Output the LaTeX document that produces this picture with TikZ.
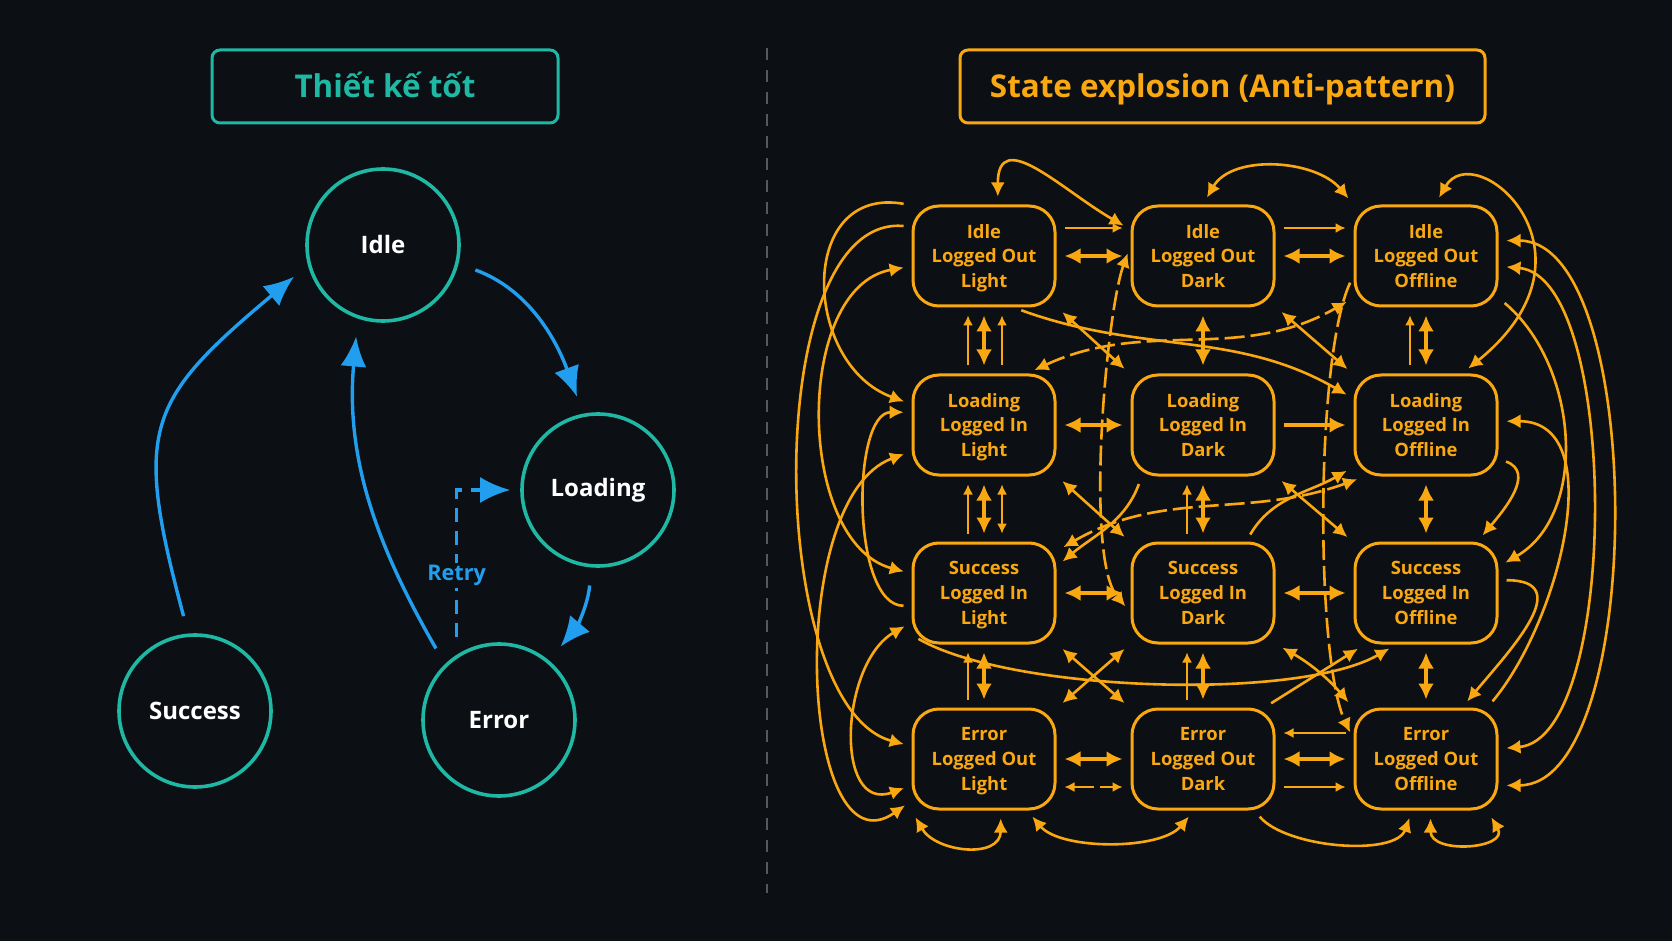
\documentclass[tikz,border=0pt]{standalone}
\usepackage{fontspec}
\setmainfont{Open Sans}
\usetikzlibrary{arrows.meta,calc}

\definecolor{bg}{RGB}{12,15,19}
\definecolor{tealc}{RGB}{30,184,164}
\definecolor{flowblue}{RGB}{33,158,238}
\definecolor{amber}{RGB}{250,168,18}
\definecolor{divgray}{RGB}{85,88,92}

\begin{document}
\begin{tikzpicture}[x=0.5pt,y=0.5pt,
  state node/.style={circle,draw=tealc,line width=1.8pt,minimum size=76pt,text=white,font=\fontsize{12}{14}\selectfont\bfseries},
  combo node/.style={rectangle,rounded corners=13pt,draw=amber,line width=1.5pt,minimum width=71pt,minimum height=50pt,align=center,text=amber,font=\fontsize{9.2}{12.4}\selectfont\bfseries},
  title node/.style={rectangle,rounded corners=4pt,line width=1.5pt,minimum height=36.5pt,text height=13pt,text depth=1.5pt,font=\fontsize{15.7}{18}\selectfont\bfseries},
  flow/.style={->,>={Latex[length=15pt,width=13pt]},flowblue,line width=1.7pt,shorten >=9pt,shorten <=9pt},
  swap/.style={<->,>={Latex[length=8pt,width=8pt]},amber,line width=2pt,shorten >=4pt,shorten <=4pt},
  tangle/.style={>={Latex[length=7pt,width=7pt]},amber,line width=1.3pt,shorten >=4pt,shorten <=4pt},
  faint/.style={>={Latex[length=5pt,width=5pt]},amber,line width=0.8pt,shorten >=4pt,shorten <=4pt},
  broken/.style={dash pattern=on 10pt off 3pt}]

\useasboundingbox (0,0) rectangle (1672,-941);
\fill[bg] (0,0) rectangle (1672,-941);
\draw[divgray,line width=1.3pt,dash pattern=on 6pt off 5pt] (767,-48) -- (767,-893);

% left: good design
\node[title node,draw=tealc,text=tealc,minimum width=173pt] (goodtitle) at (385,-86.5) {Thiết kế tốt};

\node[state node] (idle) at (383,-245) {Idle};
\node[state node] (load) at (598,-490) {Loading};
\node[state node] (succ) at (195,-711) {Success};
\node[state node] (err) at (499,-720) {Error};

\path[every edge/.style={draw,flow}]
(succ.95) edge[out=105,in=220,looseness=1.4] (idle.195)
(idle.-14) edge[out=-20,in=110] (load.101)
(load.-95) edge[out=-95,in=50] (err.50)
(err.134) edge[out=120,in=-95] (idle.-109);

\draw[flow,dash pattern=on 7pt off 4.5pt,shorten >=5pt] (err.123) |-
  node[pos=0.24,fill=bg,inner sep=1pt,text=flowblue,font=\fontsize{10.8}{12}\selectfont\bfseries]{Retry} (load.west);

% right: state explosion
\node[title node,draw=amber,text=amber,minimum width=262.5pt] (badtitle) at (1222.5,-86.5) {State explosion (Anti-pattern)};

\node[combo node] (il1) at (984,-256) {Idle\\Logged Out\\\smash{Light}};
\node[combo node] (il2) at (1203,-256) {Idle\\Logged Out\\Dark};
\node[combo node] (il3) at (1426,-256) {Idle\\Logged Out\\Offline};
\node[combo node] (lo1) at (984,-425) {Loading\\Logged In\\\smash{Light}};
\node[combo node] (lo2) at (1203,-425) {Loading\\Logged In\\Dark};
\node[combo node] (lo3) at (1426,-425) {Loading\\Logged In\\Offline};
\node[combo node] (su1) at (984,-593) {Success\\Logged In\\\smash{Light}};
\node[combo node] (su2) at (1203,-593) {Success\\Logged In\\Dark};
\node[combo node] (su3) at (1426,-593) {Success\\Logged In\\Offline};
\node[combo node] (er1) at (984,-759) {Error\\Logged Out\\\smash{Light}};
\node[combo node] (er2) at (1203,-759) {Error\\Logged Out\\Dark};
\node[combo node] (er3) at (1426,-759) {Error\\Logged Out\\Offline};

\path[every edge/.style={draw,swap}]
(il1) edge (il2) (il2) edge (il3)
(lo1) edge (lo2) (lo2) edge[->] (lo3)
(su1) edge (su2) (su2) edge (su3)
(er1) edge (er2) (er2) edge (er3)
(il1) edge (lo1) (lo1) edge (su1) (su1) edge (er1)
(il2) edge (lo2) (lo2) edge (su2) (su2) edge (er2)
(il3) edge (lo3) (lo3) edge (su3) (su3) edge (er3);

\path[every edge/.style={draw,faint}]
([xshift=-8pt]lo1.north) edge[->] ([xshift=-8pt]il1.south)
([xshift=9pt]lo1.north) edge[->] ([xshift=9pt]il1.south)
([xshift=-8pt]lo3.north) edge[->] ([xshift=-8pt]il3.south)
([xshift=-8pt]su1.north) edge[->] ([xshift=-8pt]lo1.south)
([xshift=9pt]su1.north) edge[<->] ([xshift=9pt]lo1.south)
([xshift=-8pt]su2.north) edge[->] ([xshift=-8pt]lo2.south)
([xshift=-8pt]er1.north) edge[->] ([xshift=-8pt]su1.south)
([xshift=-8pt]er2.north) edge[->] ([xshift=-8pt]su2.south)
([yshift=14pt]il1.east) edge[->] ([yshift=14pt]il2.west)
([yshift=14pt]il2.east) edge[->] ([yshift=14pt]il3.west)
([yshift=-14pt]er1.east) edge[<->,broken] ([yshift=-14pt]er2.west)
([yshift=-14pt]er2.east) edge[->] ([yshift=-14pt]er3.west)
([yshift=13pt]er3.west) edge[->] ([yshift=13pt]er2.east);

\path[every edge/.style={draw,tangle}]
% diagonals
(il1.-35) edge[<->] (lo2.145)
(il2.-35) edge[<->] (lo3.145)
(lo1.-35) edge[<->] (su2.145)
(lo2.-35) edge[<->] (su3.145)
(su1.-35) edge[<->] (er2.145)
(su2.-145) edge[<->] (er1.35)
(su2.-35) edge[<->,bend left=10] (er3.145)
(er2.40) edge[->] (su3.-140)
(lo2.-140) edge[->,out=-110,in=40] (su1.20)
(su2.50) edge[->,out=60,in=-150] (lo3.-150)
% long ones across the grid
(lo1.50) edge[<->,broken,out=25,in=210] (il3.-150)
(il1.-60) edge[->,out=-20,in=150] (lo3.160)
(su1.30) edge[<->,broken,out=30,in=200] (lo3.-140)
(su1.-150) edge[->,out=-30,in=-150,looseness=0.6] (su3.-120)
(il3.-165) edge[->,broken,out=-115,in=115,looseness=0.5] (er3.165)
(il2.172) edge[<->,broken,out=-110,in=130,looseness=0.5] (su2.-165)
% over the top
(il1.75) edge[<->,out=90,in=150,looseness=1.5] (il2.160)
(il2.north) edge[<->,out=60,in=130] (il3.north west)
(il3.80) edge[<->,out=60,in=39,out distance=40pt,in distance=96pt] (lo3.55)
% right side
(il3.12) edge[<->,out=0,in=0,looseness=0.7] (er3.-20)
(il3.-8) edge[<->,out=-5,in=5,looseness=0.65] (er3.8)
(er3.40) edge[->,out=50,in=0] (lo3.3)
(su3.10) edge[->,out=0,in=50,looseness=1.5] (er3.55)
(lo3.-25) edge[->,out=-20,in=50,looseness=1.2] (su3.45)
(il3.-30) edge[->,out=-40,in=30] (su3.20)
% left side
(il1.145) edge[->,out=170,in=160,looseness=1.5] (lo1.164)
(il1.188) edge[<->,out=190,in=165] (su1.165)
(il1.158) edge[->,out=175,in=165,looseness=0.75] (er1.170)
(lo1.-160) edge[<->,out=200,in=215] (er1.-150)
(su1.-158) edge[<->,out=210,in=200,looseness=1.3] (er1.-160)
(lo1.170) edge[<-,out=180,in=180,looseness=0.8] (su1.-170)
% underneath
(er1.south west) edge[<->,out=-60,in=-90,looseness=1.4] (er1.-72)
(er1.-50) edge[<->,out=-50,in=-130,looseness=0.8] (er2.-100)
(er2.-45) edge[->,out=-50,in=-110,looseness=0.8] (er3.-105)
(er3.-40) edge[<->,out=-60,in=-90,looseness=2] (er3.-85);
\end{tikzpicture}
\end{document}
